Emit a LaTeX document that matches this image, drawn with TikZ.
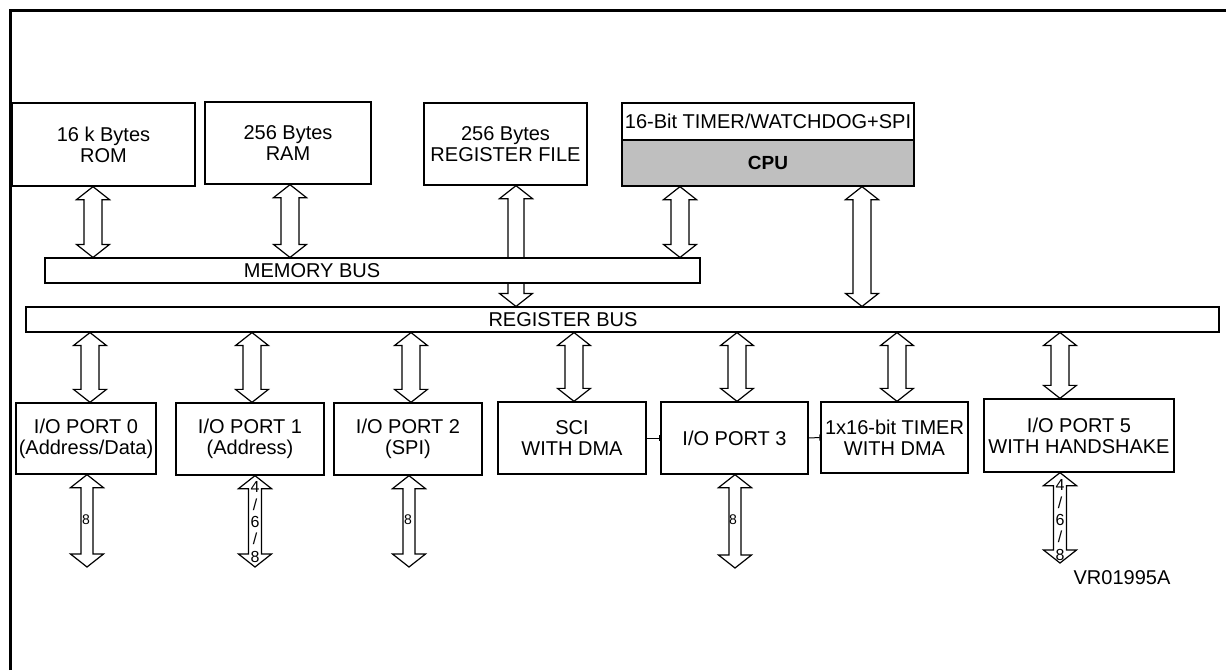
\documentclass[tikz,border=0pt]{standalone}
\usepackage{fontspec}
\setmainfont{Liberation Sans}
\usetikzlibrary{arrows.meta,backgrounds,calc}
\newcommand\dblarrow[3]{%
  \draw[hollow] let \p1=#1, \p2=#2 in
    (\x1,\y1) -- (\x1+16.5pt,\y1-13pt) -- (\x1+#3pt,\y1-13pt) -- (\x1+#3pt,\y2+13pt)
    -- (\x1+16.5pt,\y2+13pt) -- (\x1,\y2) -- (\x1-16.5pt,\y2+13pt) -- (\x1-#3pt,\y2+13pt)
    -- (\x1-#3pt,\y1-13pt) -- (\x1-16.5pt,\y1-13pt) -- cycle;}
\begin{document}
\begin{tikzpicture}[x=1pt,y=-1pt,
  box/.style={draw, line width=1.3pt, fill=white, inner sep=0pt, align=center,
    font=\fontsize{20}{21}\selectfont},
  bus/.style={draw, line width=1.1pt, fill=white, inner sep=0pt},
  hollow/.style={draw, line width=1.2pt, fill=white, line join=miter},
  lbl/.style={font=\fontsize{20}{21}\selectfont, inner sep=0pt},
  small/.style={font=\fontsize{14}{15}\selectfont, inner sep=0pt},
  stack/.style={font=\fontsize{16}{17.3}\selectfont, inner sep=0pt, align=center},
  link/.style={line width=1pt, -{Bar[width=6pt,line width=1pt]}}]
\useasboundingbox (0,0) rectangle (1226,670);
% frame
\draw[line width=3pt] (10.5,670) -- (10.5,10) -- (1226,10);
% top row
\node[box, minimum width=183pt, minimum height=83pt] (rom) at (103.5,144.5) {16 k Bytes\\ROM};
\node[box, minimum width=166pt, minimum height=82pt] (ram) at (288,143) {256 Bytes\\RAM};
\node[box, minimum width=163pt, minimum height=82pt] (rf) at (505.5,144) {256 Bytes\\REGISTER FILE};
\node[box, minimum width=292pt, minimum height=37pt] (cput) at (768,121.5) {16-Bit TIMER/WATCHDOG+SPI};
\node[box, fill=black!25, minimum width=292pt, minimum height=46pt,
  font=\fontsize{19}{20}\selectfont\bfseries] (cpu) at (768,163) {CPU};
% buses
\node[bus, minimum width=655pt, minimum height=25pt] (mb) at (372.5,270.5) {};
\node[lbl] (mbl) at (312,271) {MEMORY BUS};
\node[bus, minimum width=1193pt, minimum height=25pt] (rb) at (622.5,319.5) {};
\node[lbl] (rbl) at (563,320) {REGISTER BUS};
% bottom row
\node[box, minimum width=140pt, minimum height=71pt] (p0) at (86,438.5) {I/O PORT 0\\(Address/Data)};
\node[box, minimum width=148pt, minimum height=72pt] (p1) at (250,439) {I/O PORT 1\\(Address)};
\node[box, minimum width=148pt, minimum height=72pt] (p2) at (408,439) {I/O PORT 2\\(SPI)};
\node[box, minimum width=148pt, minimum height=72pt] (sci) at (572,438) {SCI\\WITH DMA};
\node[box, minimum width=147pt, minimum height=72pt] (p3) at (734.5,438) {I/O PORT 3};
\node[box, minimum width=147pt, minimum height=71pt] (tim) at (894.5,437.5) {1x16-bit TIMER\\WITH DMA};
\node[box, minimum width=190pt, minimum height=73pt] (p5) at (1079,435.5) {I/O PORT 5\\WITH HANDSHAKE};
\node[lbl] (vr) at (1122,578) {VR01995A};
% links between peripherals
\draw[link] (sci.east) -- (p3.west);
\draw[link] (p3.east) -- (tim.west);
% arrow x positions and free ends
\coordinate (a1) at (93,0);   \coordinate (a2) at (290,0);  \coordinate (a3) at (516,0);
\coordinate (a4) at (680,0);  \coordinate (a5) at (862,0);
\coordinate (b0) at (90,0);   \coordinate (b1) at (252,0);  \coordinate (b2) at (411,0);
\coordinate (b3) at (574,0);  \coordinate (b4) at (737,0);  \coordinate (b5) at (897,0);
\coordinate (b6) at (1060,0);
\coordinate (c0) at (87,0);   \coordinate (c1) at (255,0);  \coordinate (c2) at (409,0);
\coordinate (c3) at (735,0);  \coordinate (c5) at (1060,0);
\coordinate (e0) at (87,567); \coordinate (e1) at (255,567); \coordinate (e2) at (409,567);
\coordinate (e3) at (735,568); \coordinate (e5) at (1060,563);
\begin{scope}[on background layer]
\dblarrow{(rom.south -| a1)}{(mb.north -| a1)}{9}
\dblarrow{(ram.south -| a2)}{(mb.north -| a2)}{9}
\dblarrow{(rf.south -| a3)}{(rb.north -| a3)}{8}
\dblarrow{(cpu.south -| a4)}{(mb.north -| a4)}{9}
\dblarrow{(cpu.south -| a5)}{(rb.north -| a5)}{9}
\dblarrow{(rb.south -| b0)}{(p0.north -| b0)}{9}
\dblarrow{(rb.south -| b1)}{(p1.north -| b1)}{9}
\dblarrow{(rb.south -| b2)}{(p2.north -| b2)}{9}
\dblarrow{(rb.south -| b3)}{(sci.north -| b3)}{9}
\dblarrow{(rb.south -| b4)}{(p3.north -| b4)}{9}
\dblarrow{(rb.south -| b5)}{(tim.north -| b5)}{9}
\dblarrow{(rb.south -| b6)}{(p5.north -| b6)}{9}
\dblarrow{(p0.south -| c0)}{(e0)}{6}
\dblarrow{(p1.south -| c1)}{(e1)}{6.5}
\dblarrow{(p2.south -| c2)}{(e2)}{6}
\dblarrow{(p3.south -| c3)}{(e3)}{6}
\dblarrow{(p5.south -| c5)}{(e5)}{6.5}
\end{scope}
% bus width labels
\node[small] (l0) at (86,520) {8};
\node[stack] (l1) at (255,522) {4\\/\\6\\/\\8};
\node[small] (l2) at (408,520) {8};
\node[small] (l3) at (733,520) {8};
\node[stack] (l5) at (1060,520) {4\\/\\6\\/\\8};
\end{tikzpicture}
\end{document}
